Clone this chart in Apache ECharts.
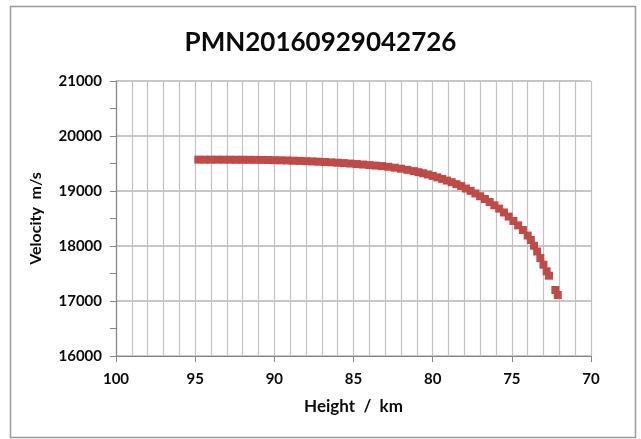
<!DOCTYPE html>
<html>
<head>
<meta charset="utf-8">
<title>PMN20160929042726</title>
<script src="https://cdn.jsdelivr.net/npm/echarts@6/dist/echarts.min.js"></script>
<style>
  html, body { margin: 0; padding: 0; background: #ffffff; }
  #chart { width: 641px; height: 439px; }
</style>
</head>
<body>
<div id="chart"></div>
<script>
// Meteor PMN20160929042726: velocity against height
const chartTitle = 'PMN20160929042726';

const heightKm = [
  94.8, 94.4, 94.0, 93.6, 93.2, 92.8, 92.4, 92.0, 91.6, 91.2,
  90.8, 90.4, 90.0, 89.6, 89.2, 88.8, 88.4, 88.0, 87.6, 87.2,
  86.8, 86.4, 86.0, 85.6, 85.2, 84.8, 84.4, 84.0, 83.6, 83.2,
  82.8, 82.4, 82.0, 81.6, 81.2, 80.9, 80.6, 80.3, 80.0, 79.7,
  79.4, 79.1, 78.8, 78.5, 78.2, 77.9, 77.6, 77.3, 77.0, 76.7,
  76.4, 76.1, 75.8, 75.5, 75.2, 74.9, 74.6, 74.3, 74.0, 73.8,
  73.6, 73.4, 73.2, 73.0, 72.8, 72.65, 72.25, 72.1
];

const velocityMs = [
  19570, 19570, 19570, 19570, 19569, 19569, 19568, 19568, 19567, 19566,
  19565, 19563, 19561, 19558, 19555, 19551, 19547, 19543, 19538, 19533,
  19527, 19521, 19514, 19507, 19499, 19490, 19481, 19471, 19462, 19453,
  19440, 19424, 19405, 19385, 19362, 19342, 19322, 19300, 19275, 19248,
  19220, 19190, 19160, 19125, 19090, 19045, 19002, 18955, 18905, 18855,
  18800, 18740, 18680, 18610, 18535, 18455, 18375, 18290, 18190, 18110,
  18005, 17900, 17780, 17660, 17540, 17460, 17200, 17110
];

const xRange = { min: 70, max: 100, step: 5 };
const yRange = { min: 16000, max: 21000, step: 1000 };

const points = heightKm.map((h, i) => [h, velocityMs[i]]);

const chart = echarts.init(document.getElementById('chart'), null, { renderer: 'canvas' });

const labelFont = {
  fontFamily: 'Lato',
  fontWeight: 'bold',
  color: '#0a0a0a'
};

chart.setOption({
  backgroundColor: '#ffffff',
  animation: false,
  title: {
    text: chartTitle,
    left: 'center',
    top: 25,
    textStyle: {
      fontFamily: 'Lato',
      fontWeight: 'bold',
      fontSize: 26,
      color: '#0a0a0a'
    }
  },
  graphic: [{
    type: 'rect',
    shape: { x: 10.5, y: 6.5, width: 625, height: 431 },
    style: { fill: 'none', stroke: '#9a9a9a', lineWidth: 1.5 },
    silent: true
  }],
  grid: { left: 116, right: 50, top: 81, bottom: 83 },
  xAxis: {
    type: 'value',
    inverse: true,
    min: xRange.min,
    max: xRange.max,
    interval: xRange.step,
    name: 'Height  /  km',
    nameLocation: 'middle',
    nameGap: 42,
    nameTextStyle: Object.assign({ fontSize: 17 }, labelFont),
    axisLine: { show: true, lineStyle: { color: '#868686', width: 1.2 } },
    axisTick: { show: true, length: 6, lineStyle: { color: '#868686' } },
    axisLabel: Object.assign({ fontSize: 15, margin: 16, formatter: v => String(v) }, labelFont),
    splitLine: { show: true, lineStyle: { color: '#c2c2c2', width: 1.2 } },
    minorTick: { show: false, splitNumber: 5 },
    minorSplitLine: { show: true, lineStyle: { color: '#c2c2c2', width: 1.2 } }
  },
  yAxis: {
    type: 'value',
    min: yRange.min,
    max: yRange.max,
    interval: yRange.step,
    name: 'Velocity  m/s',
    nameLocation: 'middle',
    nameGap: 72,
    nameTextStyle: Object.assign({ fontSize: 16 }, labelFont),
    axisLine: { show: true, lineStyle: { color: '#868686', width: 1.2 } },
    axisTick: { show: true, length: 6, lineStyle: { color: '#868686' } },
    axisLabel: Object.assign({ fontSize: 15, margin: 14, formatter: v => String(v) }, labelFont),
    splitLine: { show: true, lineStyle: { color: '#b4b4b4', width: 1.5 } },
    minorTick: { show: true, splitNumber: 2, length: 6, lineStyle: { color: '#868686' } },
    minorSplitLine: { show: false }
  },
  series: [{
    type: 'scatter',
    data: points,
    symbol: 'rect',
    symbolSize: 8,
    itemStyle: { color: '#BE4B48', opacity: 1 }
  }]
});
</script>
</body>
</html>
